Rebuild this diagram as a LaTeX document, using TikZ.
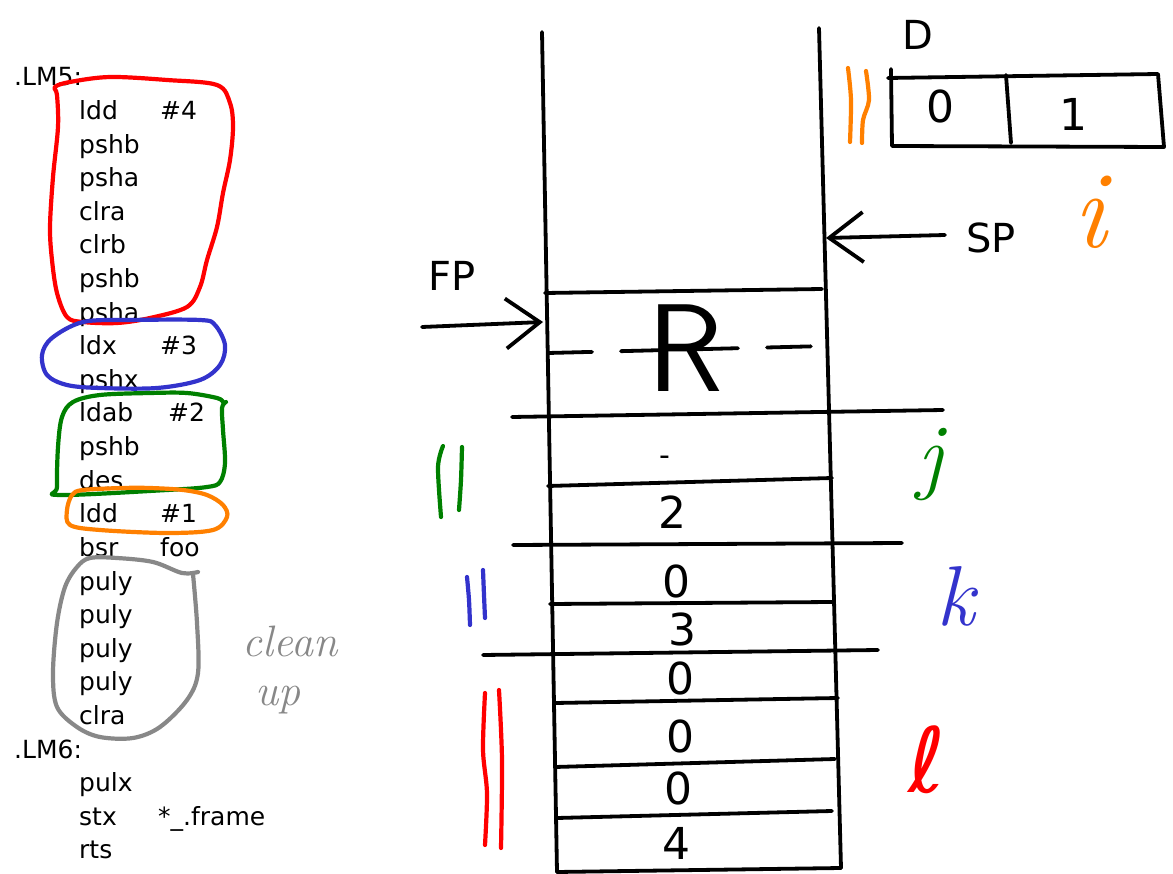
\documentclass[tikz,border=0pt]{standalone}
\usepackage{fontspec}
\newfontfamily\djv{DejaVu Sans}
\usetikzlibrary{arrows.meta}
\definecolor{penred}{RGB}{255,0,0}
\definecolor{penblue}{RGB}{51,51,204}
\definecolor{pengreen}{RGB}{0,128,0}
\definecolor{penorange}{RGB}{255,128,0}
\definecolor{pengray}{RGB}{136,136,136}
\tikzset{
  ink/.style={line width=3.8pt, draw=black},
  pen/.style={line width=4.2pt},
  code/.style={anchor=base west, inner sep=0pt, font=\djv\fontsize{25}{30}\selectfont},
  cell/.style={inner sep=0pt, font=\djv\fontsize{44}{50}\selectfont},
  lbl/.style={inner sep=0pt, font=\djv\fontsize{40}{46}\selectfont},
  hand/.style={inner sep=0pt},
  ptr/.style={ink, -{Straight Barb[length=34pt,width=50pt]}}
}
\begin{document}
\begin{tikzpicture}[x=1pt, y=-1pt, line cap=round, line join=round]
\useasboundingbox (0,0) rectangle (1173,874);

% ---------- assembly listing ----------
\node[code] (lm5)  at (14,86)    {.LM5:};
\node[code] (i1)   at (79,119.6) {ldd};   \node[code] (o1) at (160,119.6) {\#4};
\node[code] (i2)   at (79,153.2) {pshb};
\node[code] (i3)   at (79,186.8) {psha};
\node[code] (i4)   at (79,220.4) {clra};
\node[code] (i5)   at (79,254)   {clrb};
\node[code] (i6)   at (79,287.6) {pshb};
\node[code] (i7)   at (79,321.2) {psha};
\node[code] (i8)   at (79,354.8) {ldx};   \node[code] (o8) at (160,354.8) {\#3};
\node[code] (i9)   at (79,388.4) {pshx};
\node[code] (i10)  at (79,422)   {ldab};  \node[code] (o10) at (168,422) {\#2};
\node[code] (i11)  at (79,455.6) {pshb};
\node[code] (i12)  at (79,489.2) {des};
\node[code] (i13)  at (79,522.8) {ldd};   \node[code] (o13) at (160,522.8) {\#1};
\node[code] (i14)  at (79,556.4) {bsr};   \node[code] (o14) at (160,556.4) {foo};
\node[code] (i15)  at (79,590)   {puly};
\node[code] (i16)  at (79,623.6) {puly};
\node[code] (i17)  at (79,657.2) {puly};
\node[code] (i18)  at (79,690.8) {puly};
\node[code] (i19)  at (79,724.4) {clra};
\node[code] (lm6)  at (14,758)   {.LM6:};
\node[code] (i21)  at (79,791.6) {pulx};
\node[code] (i22)  at (79,825.2) {stx};   \node[code] (o22) at (158,825.2) {*\_.frame};
\node[code] (i23)  at (79,858.8) {rts};

% coloured groupings round the listing
\draw[pen, penred] plot[smooth cycle, tension=0.55] coordinates {
  (55,87) (70,82) (110,77) (167,80) (217,85) (230,103) (233,127) (230,160)
  (223,193) (217,227) (207,260) (200,287) (187,307) (150,318) (117,323)
  (83,322) (67,317) (57,293) (52,260) (50,227) (53,177) (58,127) (57,95)};
\draw[pen, penblue] plot[smooth cycle, tension=0.55] coordinates {
  (83,322) (130,320) (200,320) (215,325) (225,345) (220,365) (200,380)
  (157,388) (100,388) (67,385) (47,375) (42,355) (52,338)};
\draw[pen, pengreen] plot[smooth, tension=0.55] coordinates {
  (226,402) (222,408) (223,430) (225,463) (220,482) (207,487) (167,490)
  (60,495) (57,487) (58,447) (62,417) (73,402) (100,395) (150,393)
  (187,393) (217,398) (223,402)};
\draw[pen, penorange] plot[smooth cycle, tension=0.55] coordinates {
  (123,488) (83,490) (72,495) (67,510) (70,525) (100,530) (167,533)
  (213,530) (227,517) (223,505) (207,495) (183,490) (150,488)};
\draw[pen, pengray] plot[smooth, tension=0.55] coordinates {
  (198,572) (182,573) (153,562) (117,558) (90,558) (77,567) (65,587)
  (57,623) (53,673) (57,707) (77,727) (100,737) (133,738) (160,727)
  (187,700) (198,673) (197,623) (193,574)};
\node[hand, text=pengray, font=\itshape\fontsize{44}{48}\selectfont] (clean) at (290,641) {clean};
\node[hand, text=pengray, font=\itshape\fontsize{44}{48}\selectfont] (up) at (278,700) {up};

% ---------- the stack ----------
\coordinate (lwTop) at (542,32);  \coordinate (lwBot) at (557,872);
\coordinate (rwTop) at (819,28);  \coordinate (rwBot) at (841,868);
\draw[ink] (lwTop) -- (lwBot);
\draw[ink] (rwTop) -- (rwBot);

\draw[ink] (545,293) -- (822,289);
\draw[ink, dash pattern=on 44pt off 29pt] (548,353) -- (826,346);
\draw[ink] (512,417) -- (943,410);
\draw[ink] (548,486) -- (832,478);
\draw[ink] (513,545) -- (902,543);
\draw[ink] (550,604) -- (832,602);
\draw[ink] (483,655) -- (878,650);
\draw[ink] (555,703) -- (838,698);
\draw[ink] (555,767) -- (835,759);
\draw[ink] (557,818) -- (832,811);
\draw[ink] (lwBot) -- (rwBot);

\node[hand, font=\sffamily\fontsize{125}{130}\selectfont] (ret) at (685,348) {R};
\node[inner sep=0pt, font=\djv\fontsize{30}{34}\selectfont] (c1) at (665,461) {-};
\node[cell] (c2) at (672,512) {2};
\node[cell] (c3) at (676,581) {0};
\node[cell] (c4) at (682,629) {3};
\node[cell] (c5) at (680,678) {0};
\node[cell] (c6) at (680,736) {0};
\node[cell] (c7) at (678,788) {0};
\node[cell] (c8) at (676,843) {4};

% frame and stack pointers
\node[lbl] (fp) at (452,276) {FP};
\coordinate (fpTail) at (422,327);
\coordinate (fpHead) at (543,322);
\draw[ptr] (fpTail) -- (fpHead);
\node[lbl] (sp) at (991,238) {SP};
\coordinate (spTail) at (945,235);
\coordinate (spHead) at (826,238);
\draw[ptr] (spTail) -- (spHead);

% register D
\node[lbl] (dname) at (918,35) {D};
\draw[ink] (891,69) -- (892,146) -- (1164,147) -- (1158,74) -- (888,78);
\draw[ink] (1006,75) -- (1011,143);
\node[cell] (dA) at (940,106) {0};
\node[cell] (dB) at (1073,114) {1};

% variable markers
\draw[pen, penorange] plot[smooth, tension=0.5] coordinates {(848,68) (851,100) (850,142)};
\draw[pen, penorange] plot[smooth, tension=0.5] coordinates {(866,71) (869,100) (863,120) (862,143)};
\node[hand, text=penorange, font=\itshape\fontsize{110}{115}\selectfont] (vi) at (1090,212) {i};

\draw[pen, pengreen] plot[smooth, tension=0.5] coordinates {(443,446) (438,467) (441,517)};
\draw[pen, pengreen] plot[smooth, tension=0.5] coordinates {(462,447) (461,480) (459,510)};
\node[hand, text=pengreen, font=\itshape\fontsize{85}{90}\selectfont] (vj) at (930,465) {j};

\draw[pen, penblue] plot[smooth, tension=0.5] coordinates {(467,577) (469,600) (470,625)};
\draw[pen, penblue] plot[smooth, tension=0.5] coordinates {(483,570) (484,595) (485,618)};
\node[hand, text=penblue, font=\itshape\fontsize{85}{90}\selectfont] (vk) at (956,596) {k};

\draw[pen, penred] plot[smooth, tension=0.5] coordinates {(485,693) (483,750) (487,793) (485,845)};
\draw[pen, penred] plot[smooth, tension=0.5] coordinates {(499,690) (502,760) (501,848)};
\node[hand, text=penred, font=\djv\fontsize{90}{95}\selectfont] (vl) at (927,760) {ℓ};
\end{tikzpicture}
\end{document}
